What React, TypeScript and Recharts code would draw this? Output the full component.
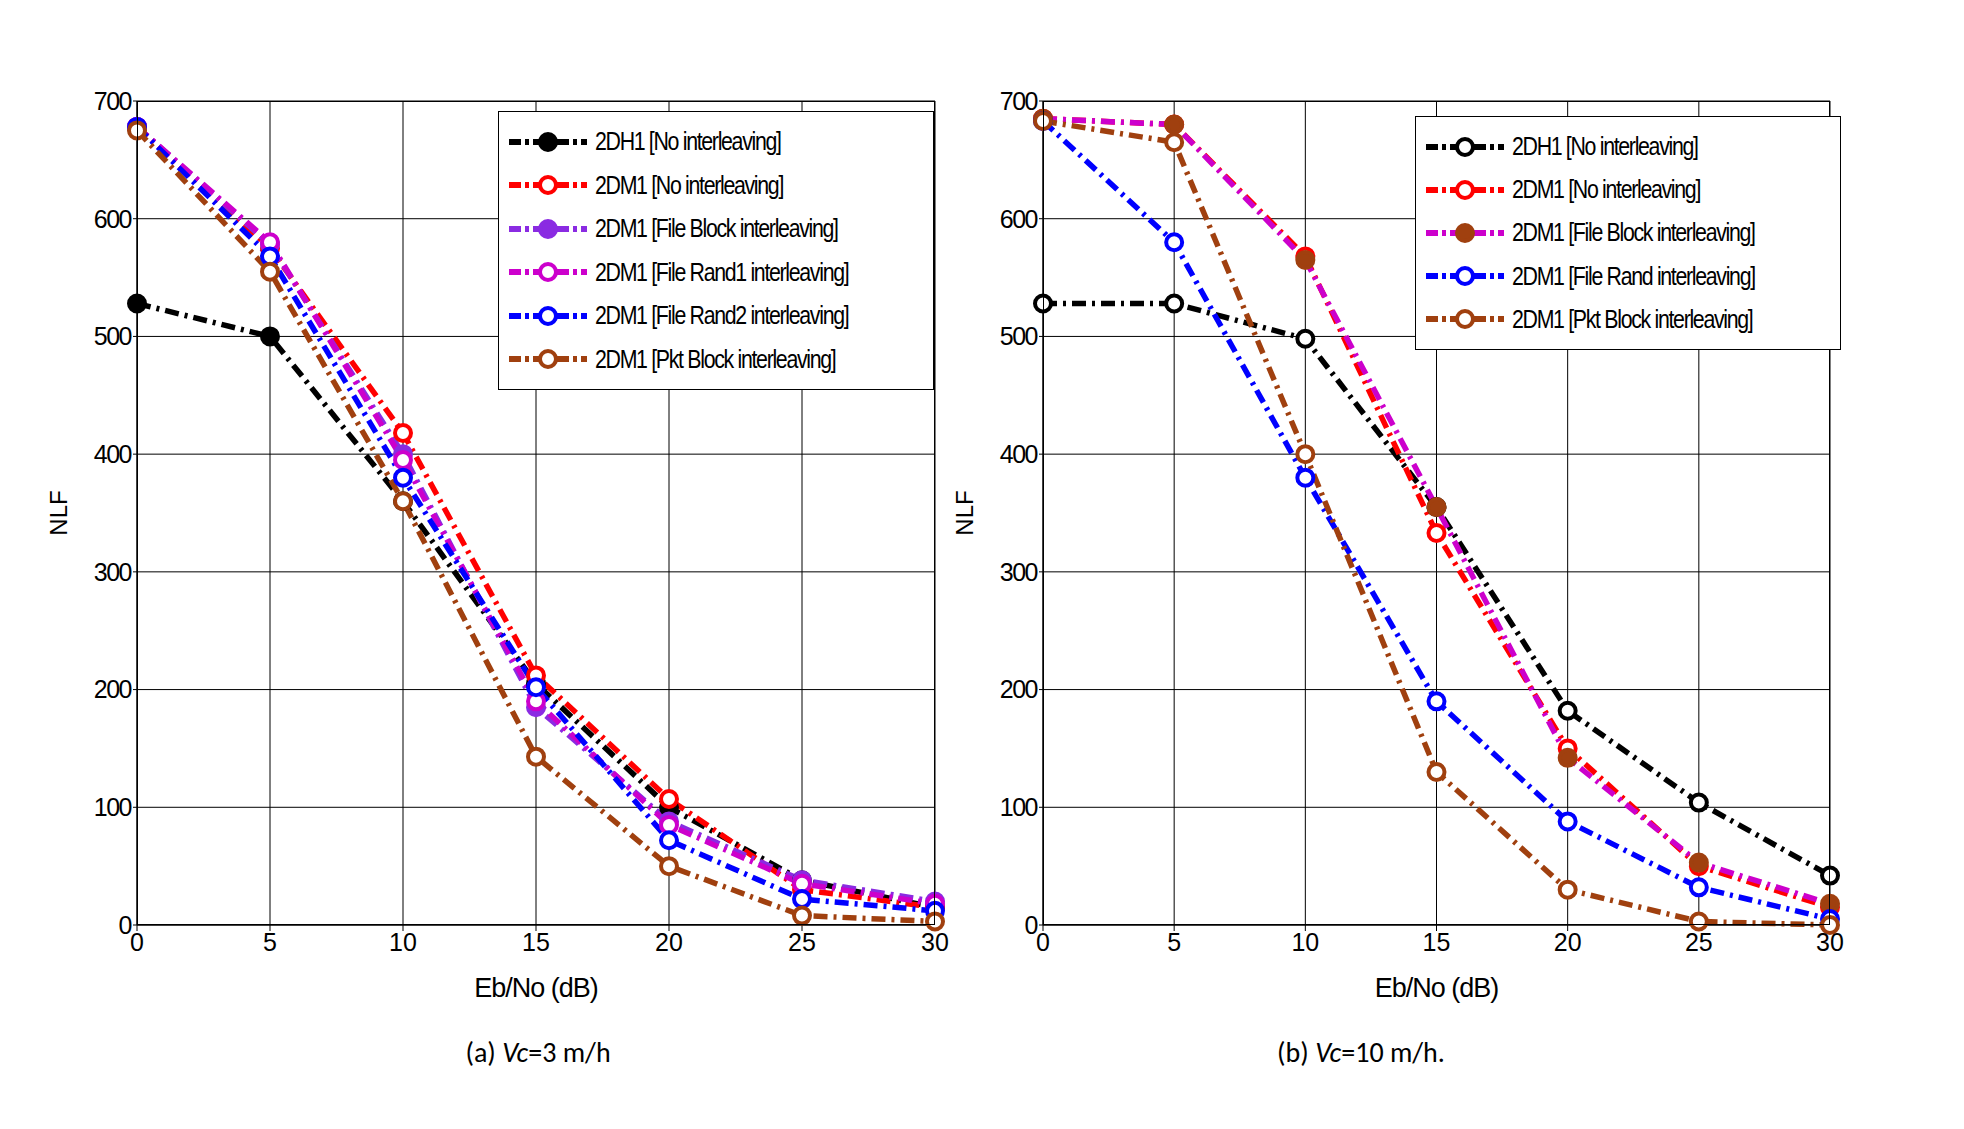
import React from 'react';
import { LineChart, Line, XAxis, YAxis, CartesianGrid } from 'recharts';

const ebno = [0, 5, 10, 15, 20, 25, 30];
const yTicks = [0, 100, 200, 300, 400, 500, 600, 700];

// (a) Vc = 3 m/h
const aDH1 = [528, 500, 360, 205, 100, 38, 15];
const aDM1 = [678, 575, 418, 212, 107, 30, 15];
const aFileBlock = [678, 578, 400, 185, 88, 38, 20];
const aFileRand1 = [678, 580, 395, 190, 85, 35, 18];
const aFileRand2 = [678, 568, 380, 202, 72, 22, 12];
const aPktBlock = [675, 555, 360, 143, 50, 8, 3];

// (b) Vc = 10 m/h
const bDH1 = [528, 528, 498, 355, 182, 104, 42];
const bDM1 = [685, 680, 568, 333, 150, 50, 15];
const bFileBlock = [685, 680, 565, 355, 142, 53, 18];
const bFileRand = [683, 580, 380, 190, 88, 32, 5];
const bPktBlock = [683, 665, 400, 130, 30, 3, 0];

const FONT = '"Liberation Sans Narrow", "Arial Narrow", "Liberation Sans", sans-serif';
const DASH = '14 6 3 6';

type S = { key: string; name: string; values: number[]; color: string; fill: string; dotStroke: string };

const leftSeries: S[] = [
  { key: 's0', name: '2DH1 [No interleaving]', values: aDH1, color: '#000', fill: '#000', dotStroke: '#000' },
  { key: 's1', name: '2DM1 [No interleaving]', values: aDM1, color: '#ff0000', fill: '#fff', dotStroke: '#ff0000' },
  { key: 's2', name: '2DM1 [File Block interleaving]', values: aFileBlock, color: '#8a2be2', fill: '#8a2be2', dotStroke: '#8a2be2' },
  { key: 's3', name: '2DM1 [File Rand1 interleaving]', values: aFileRand1, color: '#cc00cc', fill: '#fff', dotStroke: '#cc00cc' },
  { key: 's4', name: '2DM1 [File Rand2 interleaving]', values: aFileRand2, color: '#0000ff', fill: '#fff', dotStroke: '#0000ff' },
  { key: 's5', name: '2DM1 [Pkt Block interleaving]', values: aPktBlock, color: '#a0400f', fill: '#fff', dotStroke: '#a0400f' },
];

const rightSeries: S[] = [
  { key: 's0', name: '2DH1 [No interleaving]', values: bDH1, color: '#000', fill: '#fff', dotStroke: '#000' },
  { key: 's1', name: '2DM1 [No interleaving]', values: bDM1, color: '#ff0000', fill: '#fff', dotStroke: '#ff0000' },
  { key: 's2', name: '2DM1 [File Block interleaving]', values: bFileBlock, color: '#cc00cc', fill: '#a0400f', dotStroke: '#a0400f' },
  { key: 's3', name: '2DM1 [File Rand interleaving]', values: bFileRand, color: '#0000ff', fill: '#fff', dotStroke: '#0000ff' },
  { key: 's4', name: '2DM1 [Pkt Block interleaving]', values: bPktBlock, color: '#a0400f', fill: '#fff', dotStroke: '#a0400f' },
];

function Panel({ series, left, margin, legend, caption, captionX }: any) {
  const data = ebno.map((x, i) => {
    const row: any = { x };
    series.forEach((s: S) => (row[s.key] = s.values[i]));
    return row;
  });
  const plotL = left + margin.left + 40;
  const plotR = left + 980 - margin.right;
  return (
    <>
      <div style={{ position: 'absolute', left, top: 0 }}>
        <LineChart width={980} height={1000} data={data} margin={margin}>
          <CartesianGrid stroke="#000" strokeWidth={1} />
          <XAxis dataKey="x" type="number" domain={[0, 30]} ticks={ebno} height={30}
            tick={{ fontFamily: FONT, fontSize: 25, fill: '#000' }} stroke="#000" tickSize={6} />
          <YAxis type="number" domain={[0, 700]} ticks={yTicks} width={40}
            tick={{ fontFamily: FONT, fontSize: 25, fill: '#000', letterSpacing: -1.5 }} stroke="#000" tickSize={4} />
          {series.map((s: S) => (
            <Line key={s.key} dataKey={s.key} stroke={s.color} strokeWidth={5.5} strokeDasharray={DASH}
              isAnimationActive={false}
              dot={{ r: 8, stroke: s.dotStroke, strokeWidth: 4, fill: s.fill, strokeDasharray: '0' }} />
          ))}
        </LineChart>
      </div>
      <div style={{ position: 'absolute', left: plotL, top: 101, width: plotR - plotL, height: 824, border: '1.5px solid #000', boxSizing: 'border-box', pointerEvents: 'none' }} />
      <div style={{ position: 'absolute', left: plotL - 78, top: 513, transform: 'translate(-50%,-50%) rotate(-90deg)', fontFamily: FONT, fontSize: 24 }}>NLF</div>
      <div style={{ position: 'absolute', left: (plotL + plotR) / 2, top: 988, transform: 'translate(-50%,-50%)', fontFamily: FONT, fontSize: 27, letterSpacing: -1 }}>Eb/No (dB)</div>
      <div style={{ position: 'absolute', left: captionX, top: 1052, transform: 'translate(-50%,-50%)', fontFamily: 'Carlito, Calibri, "Liberation Sans", sans-serif', fontSize: 28 }}>{caption}</div>
      <div style={{ position: 'absolute', left: legend.x, top: legend.y, width: legend.w, height: legend.h, border: '1px solid #000', background: '#fff', boxSizing: 'border-box', padding: '8px 8px', display: 'flex', flexDirection: 'column', justifyContent: 'space-around' }}>
        {series.map((s: S) => (
          <div key={s.key} style={{ display: 'flex', alignItems: 'center', fontFamily: FONT, fontSize: 26, whiteSpace: 'nowrap', letterSpacing: -1.6 }}>
            <svg width={82} height={24} style={{ marginRight: 6, flexShrink: 0 }}>
              <line x1={2} y1={12} x2={80} y2={12} stroke={s.color} strokeWidth={6} strokeDasharray="12 4 4 4" />
              <circle cx={41} cy={12} r={8} stroke={s.dotStroke} strokeWidth={4} fill={s.fill} />
            </svg>
            <span style={{ display: 'inline-block', transform: 'scaleX(0.82)', transformOrigin: 'left center' }}>{s.name}</span>
          </div>
        ))}
      </div>
    </>
  );
}

export default function App() {
  return (
    <div style={{ position: 'fixed', left: 0, top: 0, width: 1964, height: 1129, background: '#fff' }}>
      <Panel series={leftSeries} left={0} margin={{ top: 101, left: 97, right: 45, bottom: 45 }}
        legend={{ x: 498, y: 111, w: 436, h: 279 }} caption={<>(a) <i>Vc</i>=3 m/h</>} captionX={538} />
      <Panel series={rightSeries} left={980} margin={{ top: 101, left: 23, right: 130, bottom: 45 }}
        legend={{ x: 1415, y: 116, w: 426, h: 234 }} caption={<>(b) <i>Vc</i>=10 m/h.</>} captionX={1361} />
    </div>
  );
}
